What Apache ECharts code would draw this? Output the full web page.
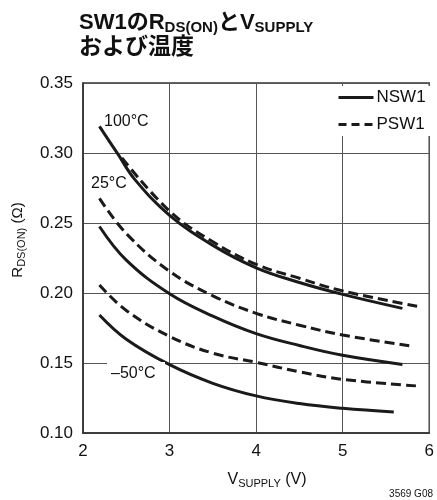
<!DOCTYPE html>
<html>
<head>
<meta charset="utf-8">
<script src="https://cdn.jsdelivr.net/npm/echarts@6/dist/echarts.min.js"></script>
<style>
  html, body { margin: 0; padding: 0; background: #fff; }
  #chart { width: 437px; height: 500px; }
</style>
</head>
<body>
<div id="chart"></div>
<script>
  // V_SUPPLY (V) / R_DS(ON) (ohm)
  var vNsw100 = [2.19, 2.4, 2.6, 3, 3.5, 4, 4.5, 5, 5.69];
  var rNsw100 = [0.319, 0.2995, 0.281, 0.2555, 0.234, 0.218, 0.2075, 0.199, 0.189];
  var vPsw100 = [2.45, 3, 3.5, 4, 4.5, 5, 5.9];
  var rPsw100 = [0.2965, 0.2585, 0.2366, 0.2205, 0.2105, 0.2015, 0.190];
  var vNsw25 = [2.19, 2.5, 3, 3.5, 4, 4.5, 5, 5.69];
  var rNsw25 = [0.2475, 0.2235, 0.1995, 0.1835, 0.171, 0.1625, 0.1555, 0.149];
  var vPsw25 = [2.19, 2.5, 3, 3.5, 4, 4.5, 5, 5.8];
  var rPsw25 = [0.2676, 0.2425, 0.2155, 0.198, 0.1855, 0.177, 0.170, 0.162];
  var vPswM50 = [2.19, 2.5, 3, 3.5, 4, 4.5, 5, 5.86];
  var rPswM50 = [0.2057, 0.1875, 0.169, 0.157, 0.1505, 0.1437, 0.1383, 0.1336];
  var vNswM50 = [2.19, 2.5, 3, 3.5, 4, 4.5, 5, 5.59];
  var rNswM50 = [0.1843, 0.167, 0.1488, 0.1355, 0.1265, 0.121, 0.1176, 0.115];

  var xTicks = [2, 3, 4, 5, 6];
  var yTicks = [0.10, 0.15, 0.20, 0.25, 0.30, 0.35];

  var FONT = "'Liberation Sans', Arial, sans-serif";
  var CJK = "'Liberation Sans', 'Noto Sans CJK JP', sans-serif";

  function pairs(xs, ys) {
    var out = [];
    for (var i = 0; i < xs.length; i++) {
      out.push([xs[i], ys[i]]);
    }
    return out;
  }

  function curve(name, xs, ys, dashed) {
    return {
      name: name,
      type: 'line',
      smooth: 0.4,
      symbol: 'none',
      silent: true,
      data: pairs(xs, ys),
      lineStyle: {
        color: '#1a1a1a',
        width: 3,
        type: dashed ? [10, 5] : 'solid',
        cap: 'butt'
      },
      itemStyle: { color: '#1a1a1a' },
      z: dashed ? 3 : 4
    };
  }

  var myChart = echarts.init(document.getElementById('chart'));
  var option = {
    backgroundColor: '#fff',
    animation: false,
    title: {
      left: 79,
      top: 11,
      padding: 0,
      text: '{b|SW1の}{b|R}{s|DS(ON)}{b|と}{b|V}{s|SUPPLY}\n{c|および温度}',
      textStyle: {
        rich: {
          b: { fontSize: 22, fontWeight: 'bold', fontFamily: CJK, color: '#111', lineHeight: 24 },
          s: { fontSize: 15, fontWeight: 'bold', fontFamily: CJK, color: '#111', lineHeight: 24, verticalAlign: 'bottom' },
          c: { fontSize: 23, fontWeight: 'bold', fontFamily: CJK, color: '#111', lineHeight: 26 }
        }
      }
    },
    legend: {
      orient: 'vertical',
      left: 333,
      top: 86,
      padding: [3, 6, 3, 4],
      backgroundColor: '#fff',
      itemWidth: 35,
      itemHeight: 14,
      itemGap: 10,
      itemStyle: { opacity: 0 },
      data: [
        { name: 'NSW1', lineStyle: { width: 3, type: 'solid' } },
        { name: 'PSW1', lineStyle: { width: 3, type: [8, 5] } }
      ],
      textStyle: { fontSize: 17, fontFamily: FONT, color: '#111', padding: [0, 0, 0, -2] },
      z: 10
    },
    grid: {
      left: 83,
      right: 3,
      top: 83,
      bottom: 67,
      show: true,
      borderColor: '#333',
      borderWidth: 1.5,
      backgroundColor: 'transparent'
    },
    xAxis: {
      type: 'value',
      min: xTicks[0],
      max: xTicks[xTicks.length - 1],
      interval: 1,
      axisLine: { show: true, lineStyle: { color: '#333', width: 1.5 } },
      axisTick: { show: false },
      splitLine: { show: true, lineStyle: { color: '#555', width: 1 } },
      axisLabel: { margin: 10, fontSize: 17, fontFamily: FONT, color: '#111' }
    },
    yAxis: {
      type: 'value',
      min: yTicks[0],
      max: yTicks[yTicks.length - 1],
      interval: 0.05,
      axisLine: { show: true, lineStyle: { color: '#333', width: 1.5 } },
      axisTick: { show: false },
      splitLine: { show: true, lineStyle: { color: '#555', width: 1 } },
      axisLabel: {
        margin: 10,
        fontSize: 17,
        fontFamily: FONT,
        color: '#111',
        formatter: function (v) { return v.toFixed(2); }
      }
    },
    series: [
      curve('NSW1', vNsw100, rNsw100, false),
      curve('PSW1', vPsw100, rPsw100, true),
      curve('NSW1', vNsw25, rNsw25, false),
      curve('PSW1', vPsw25, rPsw25, true),
      curve('PSW1', vPswM50, rPswM50, true),
      curve('NSW1', vNswM50, rNswM50, false)
    ],
    graphic: [
      {
        type: 'text', x: 104, y: 122, z: 20,
        style: { text: '100°C', font: '16px ' + FONT, fill: '#111', verticalAlign: 'middle' }
      },
      {
        type: 'text', x: 91, y: 184, z: 20,
        style: { text: '25°C', font: '16px ' + FONT, fill: '#111', verticalAlign: 'middle' }
      },
      {
        type: 'rect', x: 107, y: 362, z: 19,
        shape: { width: 58, height: 4 },
        style: { fill: '#fff' }
      },
      {
        type: 'text', x: 111, y: 374, z: 20,
        style: { text: '–50°C', font: '16px ' + FONT, fill: '#111', verticalAlign: 'middle' }
      },
      {
        type: 'text', x: 18, y: 240, rotation: Math.PI / 2, z: 20,
        style: {
          text: '{a|R}{s|DS(ON)}{a| (Ω)}',
          align: 'center',
          verticalAlign: 'middle',
          rich: {
            a: { fontSize: 15, fontFamily: FONT, fill: '#111', color: '#111', lineHeight: 18 },
            s: { fontSize: 11, fontFamily: FONT, fill: '#111', color: '#111', lineHeight: 18, verticalAlign: 'bottom' }
          }
        }
      },
      {
        type: 'text', x: 267, y: 480, z: 20,
        style: {
          text: '{a|V}{s|SUPPLY}{a| (V)}',
          align: 'center',
          verticalAlign: 'middle',
          rich: {
            a: { fontSize: 16, fontFamily: FONT, fill: '#111', color: '#111', lineHeight: 18 },
            s: { fontSize: 11, fontFamily: FONT, fill: '#111', color: '#111', lineHeight: 18, verticalAlign: 'bottom' }
          }
        }
      },
      {
        type: 'text', x: 433, y: 494, z: 20,
        style: { text: '3569 G08', font: '10px ' + FONT, fill: '#111', align: 'right', verticalAlign: 'middle' }
      }
    ]
  };
  myChart.setOption(option);
</script>
</body>
</html>
